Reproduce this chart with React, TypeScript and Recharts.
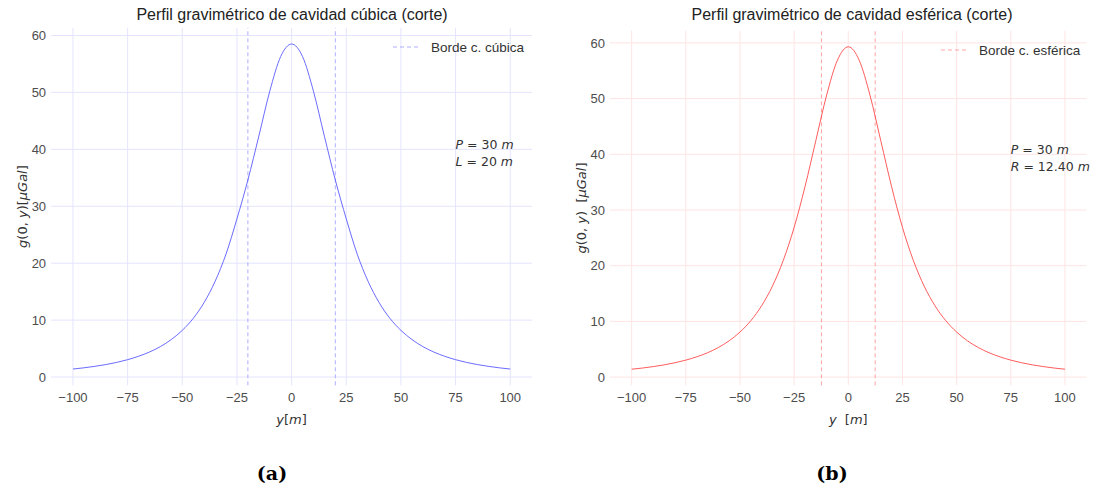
import React from "react";
import {
  CartesianGrid,
  Label,
  Legend,
  Line,
  LineChart,
  ReferenceDot,
  ReferenceLine,
  XAxis,
  YAxis
} from "recharts";

// y position along the profile [m]
const yPositions = [
  -100, -95, -90, -85, -80, -75, -70, -65, -60, -55, -50, -45, -40, -35, -30, -25, -20,
  -15, -10, -5, 0, 5, 10, 15, 20, 25, 30, 35, 40, 45, 50, 55, 60, 65, 70, 75, 80, 85,
  90, 95, 100
];

// g(0, y) [µGal]
const cubeGravity = [
  1.41, 1.62, 1.88, 2.19, 2.57, 3.05, 3.65, 4.4, 5.35, 6.6, 8.2, 10.3, 13.1, 16.8, 21.6,
  27.8, 34.6, 42.3, 50.2, 56.3, 58.5, 56.3, 50.2, 42.3, 34.6, 27.8, 21.6, 16.8, 13.1,
  10.3, 8.2, 6.6, 5.35, 4.4, 3.65, 3.05, 2.57, 2.19, 1.88, 1.62, 1.41
];
const sphereGravity = [
  1.41, 1.62, 1.88, 2.19, 2.57, 3.04, 3.63, 4.36, 5.3, 6.51, 8.08, 10.12, 12.81, 16.34,
  20.97, 26.88, 34.16, 42.43, 50.63, 56.91, 59.3, 56.91, 50.63, 42.43, 34.16, 26.88,
  20.97, 16.34, 12.81, 10.12, 8.08, 6.51, 5.3, 4.36, 3.63, 3.04, 2.57, 2.19, 1.88, 1.62,
  1.41
];

const xTicks = [-100, -75, -50, -25, 0, 25, 50, 75, 100];
const gTicks = [0, 10, 20, 30, 40, 50, 60];
const cubeEdges = [-20, 20];
const sphereEdges = [-12.4, 12.4];

const SANS = "'Liberation Sans', Arial, sans-serif";
const MATH = "'DejaVu Sans', sans-serif";

const minus = (v: number) => String(v).replace("-", "\u2212");

type Part = { t: string; i?: boolean };

function MathText({ parts }: { parts: Part[] }) {
  return (
    <>
      {parts.map((p, k) => (
        <tspan key={k} fontStyle={p.i ? "italic" : "normal"}>
          {p.t}
        </tspan>
      ))}
    </>
  );
}

type PanelProps = {
  data: Array<{ y: number; g: number }>;
  color: string;
  gridColor: string;
  edgeColor: string;
  edges: number[];
  yDomain: [number, number];
  margin: { top: number; right: number; bottom: number; left: number };
  yAxisWidth: number;
  yLabel: Part[];
  yLabelX: number;
  xLabel: Part[];
  legendText: string;
  legendLeft: number;
  legendTop: number;
  note: Part[][];
};

function Panel(props: PanelProps) {
  const {
    data, color, gridColor, edgeColor, edges, yDomain, margin, yAxisWidth,
    yLabel, yLabelX, xLabel, legendText, legendLeft, legendTop, note
  } = props;

  return (
    <LineChart width={550} height={488} data={data} margin={margin}>
      <CartesianGrid stroke={gridColor} strokeWidth={1} syncWithTicks />
      <XAxis
        dataKey="y"
        type="number"
        domain={[-110, 110]}
        ticks={xTicks}
        tickFormatter={minus}
        axisLine={false}
        tickLine={false}
        tickSize={0}
        tickMargin={7}
        height={30}
        tick={{ fill: "#4d4d4d", fontSize: 13, fontFamily: SANS }}
      >
        <Label
          content={({ viewBox }: any) => (
            <text
              x={viewBox.x + viewBox.width / 2}
              y={viewBox.y + 34}
              textAnchor="middle"
              dominantBaseline="central"
              fontFamily={MATH}
              fontSize={13}
              fill="#333"
              style={{ whiteSpace: "pre" }}
            >
              <MathText parts={xLabel} />
            </text>
          )}
        />
      </XAxis>
      <YAxis
        type="number"
        domain={yDomain}
        ticks={gTicks}
        allowDataOverflow
        axisLine={false}
        tickLine={false}
        tickSize={0}
        tickMargin={5}
        width={yAxisWidth}
        tick={{ fill: "#4d4d4d", fontSize: 13, fontFamily: SANS }}
      >
        <Label
          content={({ viewBox }: any) => {
            const cx = viewBox.x + yLabelX;
            const cy = viewBox.y + viewBox.height / 2;
            return (
              <text
                x={cx}
                y={cy}
                transform={`rotate(-90, ${cx}, ${cy})`}
                textAnchor="middle"
                dominantBaseline="central"
                fontFamily={MATH}
                fontSize={13}
                fill="#333"
                style={{ whiteSpace: "pre" }}
              >
                <MathText parts={yLabel} />
              </text>
            );
          }}
        />
      </YAxis>
      {edges.map((e) => (
        <ReferenceLine
          key={e}
          x={e}
          stroke={edgeColor}
          strokeWidth={0.9}
          strokeDasharray="4 3"
        />
      ))}
      <Line
        dataKey="g"
        type="monotone"
        stroke={color}
        strokeWidth={0.9}
        dot={false}
        isAnimationActive={false}
      />
      <ReferenceDot
        x={75}
        y={39.3}
        r={0}
        fill="none"
        stroke="none"
        ifOverflow="visible"
        label={({ viewBox }: any) => (
          <text
            x={viewBox.x}
            y={viewBox.y}
            fontFamily={MATH}
            fontSize={12.5}
            fill="#333"
            style={{ whiteSpace: "pre" }}
          >
            {note.map((row, k) => (
              <tspan key={k} x={viewBox.x} dy={k === 0 ? -4 : 17}>
                {row.map((p, j) => (
                  <tspan key={j} fontStyle={p.i ? "italic" : "normal"}>
                    {p.t}
                  </tspan>
                ))}
              </tspan>
            ))}
          </text>
        )}
      />
      <Legend
        layout="vertical"
        align="center"
        verticalAlign="middle"
        wrapperStyle={{ position: "absolute", left: legendLeft, top: legendTop, width: "auto" }}
        content={() => (
          <div style={{ display: "flex", alignItems: "center", height: 16 }}>
            <svg width={27} height={10}>
              <line
                x1={0}
                y1={5}
                x2={27}
                y2={5}
                stroke={edgeColor}
                strokeWidth={0.9}
                strokeDasharray="4 3"
              />
            </svg>
            <span
              style={{
                marginLeft: 11,
                fontFamily: SANS,
                fontSize: 13.5,
                color: "#333",
                whiteSpace: "nowrap"
              }}
            >
              {legendText}
            </span>
          </div>
        )}
      />
    </LineChart>
  );
}

const cubeData = yPositions.map((y, i) => ({ y, g: cubeGravity[i] }));
const sphereData = yPositions.map((y, i) => ({ y, g: sphereGravity[i] }));

const titleStyle: React.CSSProperties = {
  position: "absolute",
  top: 5,
  width: 500,
  textAlign: "center",
  fontFamily: SANS,
  fontSize: 16,
  lineHeight: "20px",
  color: "#222"
};

const captionStyle: React.CSSProperties = {
  position: "absolute",
  top: 460,
  width: 100,
  textAlign: "center",
  fontFamily: "'DejaVu Serif', serif",
  fontWeight: "bold",
  fontSize: 19,
  lineHeight: "26px",
  color: "#000"
};

export default function App() {
  return (
    <div
      style={{
        position: "absolute",
        left: 0,
        top: 0,
        width: 1100,
        height: 488,
        background: "#fff",
        overflow: "hidden"
      }}
    >
      <div style={{ position: "absolute", left: 0, top: 0 }}>
        <Panel
          data={cubeData}
          color="#5a5aff"
          gridColor="#e4e4ff"
          edgeColor="#a4a4ff"
          edges={cubeEdges}
          yDomain={[-1.45, 61.35]}
          margin={{ top: 27.8, right: 17.9, bottom: 72.7, left: 0 }}
          yAxisWidth={51.1}
          yLabel={[
            { t: "g", i: true },
            { t: "(0, " },
            { t: "y", i: true },
            { t: ")[" },
            { t: "\u03bcGal", i: true },
            { t: "]" }
          ]}
          yLabelX={22}
          xLabel={[{ t: "y", i: true }, { t: "[" }, { t: "m", i: true }, { t: "]" }]}
          legendText="Borde c. cúbica"
          legendLeft={393}
          legendTop={39}
          note={[
            [{ t: "P", i: true }, { t: " = 30 " }, { t: "m", i: true }],
            [{ t: "L", i: true }, { t: " = 20 " }, { t: "m", i: true }]
          ]}
        />
      </div>
      <div style={{ position: "absolute", left: 550, top: 0 }}>
        <Panel
          data={sphereData}
          color="#ff4a4a"
          gridColor="#ffe4e4"
          edgeColor="#ff9a9a"
          edges={sphereEdges}
          yDomain={[-1.48, 62.19]}
          margin={{ top: 30.7, right: 13.4, bottom: 72.7, left: 0 }}
          yAxisWidth={60}
          yLabel={[
            { t: "g", i: true },
            { t: "(0, " },
            { t: "y", i: true },
            { t: ")  [" },
            { t: "\u03bcGal", i: true },
            { t: "]" }
          ]}
          yLabelX={31}
          xLabel={[{ t: "y", i: true }, { t: "  [" }, { t: "m", i: true }, { t: "]" }]}
          legendText="Borde c. esférica"
          legendLeft={391}
          legendTop={42}
          note={[
            [{ t: "P", i: true }, { t: " = 30 " }, { t: "m", i: true }],
            [{ t: "R", i: true }, { t: " = 12.40 " }, { t: "m", i: true }]
          ]}
        />
      </div>
      <div style={{ ...titleStyle, left: 292 - 250 }}>
        Perfil gravimétrico de cavidad cúbica (corte)
      </div>
      <div style={{ ...titleStyle, left: 852 - 250 }}>
        Perfil gravimétrico de cavidad esférica (corte)
      </div>
      <div style={{ ...captionStyle, left: 272 - 50 }}>(a)</div>
      <div style={{ ...captionStyle, left: 832 - 50 }}>(b)</div>
    </div>
  );
}
